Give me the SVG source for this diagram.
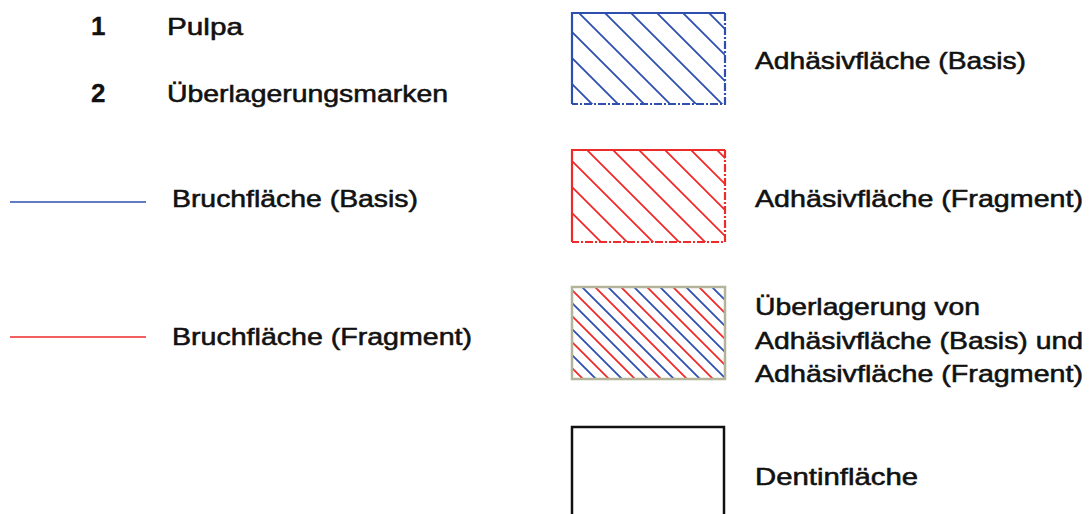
<svg xmlns="http://www.w3.org/2000/svg" width="1092" height="514" viewBox="0 0 1092 514">
<style>
  .t { font-family: "Liberation Sans", Arial, sans-serif; font-size: 24px; font-weight: 400; fill: #111; stroke: #111; stroke-width: 0.55; }
  .n { font-family: "Liberation Sans", Arial, sans-serif; font-size: 26px; font-weight: 700; fill: #111; stroke: #111; stroke-width: 0.3; }
  .hb { stroke: #2f4fb0; stroke-width: 1.8; fill: none; }
  .hr { stroke: #ee2b2b; stroke-width: 1.8; fill: none; }
</style>
<defs>
  <clipPath id="c1"><rect x="572" y="13" width="153" height="91"/></clipPath>
  <clipPath id="c2"><rect x="572" y="150" width="153" height="92"/></clipPath>
  <clipPath id="c3"><rect x="572" y="287" width="153" height="92"/></clipPath>
</defs>
<rect width="1092" height="514" fill="#fff"/>

<g id="pulpa">
  <text class="n" x="91" y="35">1</text>
  <text class="t" x="167" y="35" textLength="76" lengthAdjust="spacingAndGlyphs">Pulpa</text>
</g>
<g id="ueberlagerungsmarken">
  <text class="n" x="91" y="102">2</text>
  <text class="t" x="167" y="102" textLength="281" lengthAdjust="spacingAndGlyphs">Überlagerungsmarken</text>
</g>

<g id="connectors">
  <line x1="10" y1="202" x2="146" y2="202" stroke="#2f4fb0" stroke-width="1.5"/>
  <line x1="10" y1="337" x2="146" y2="337" stroke="#ee2b2b" stroke-width="1.5"/>
</g>

<g id="bruch-basis">
  <text class="t" x="172" y="207" textLength="246" lengthAdjust="spacingAndGlyphs">Bruchfläche (Basis)</text>
</g>
<g id="bruch-fragment">
  <text class="t" x="172" y="345" textLength="300" lengthAdjust="spacingAndGlyphs">Bruchfläche (Fragment)</text>
</g>

<g id="adhaesiv-basis">
  <g clip-path="url(#c1)" class="hb">
    <path d="M488 0L608 120M514 0L634 120M540 0L660 120M566 0L686 120M592 0L712 120M618 0L738 120M644 0L764 120M670 0L790 120M696 0L816 120"/>
  </g>
  <path d="M572 104V13H725" fill="none" stroke="#2f4fb0" stroke-width="2.2"/>
  <path d="M725 13V104H572" fill="none" stroke="#2f4fb0" stroke-width="2.2" stroke-dasharray="8 2 2 2"/>
  <text class="t" x="755" y="69" textLength="271" lengthAdjust="spacingAndGlyphs">Adhäsivfläche (Basis)</text>
</g>

<g id="adhaesiv-fragment">
  <g clip-path="url(#c2)" class="hr">
    <path d="M359 0L609 250M385 0L635 250M411 0L661 250M437 0L687 250M463 0L713 250M489 0L739 250M515 0L765 250M541 0L791 250M567 0L817 250"/>
  </g>
  <path d="M572 242V150H725" fill="none" stroke="#ee2b2b" stroke-width="2.2"/>
  <path d="M725 150V242H572" fill="none" stroke="#ee2b2b" stroke-width="2.2" stroke-dasharray="8 2 2 2"/>
  <text class="t" x="755" y="207" textLength="328" lengthAdjust="spacingAndGlyphs">Adhäsivfläche (Fragment)</text>
</g>

<g id="ueberlagerung">
  <g clip-path="url(#c3)">
    <path class="hb" d="M217 0L617 400M243 0L643 400M269 0L669 400M295 0L695 400M321 0L721 400M347 0L747 400M373 0L773 400M399 0L799 400M425 0L825 400"/>
    <path class="hr" d="M204 0L604 400M230 0L630 400M256 0L656 400M282 0L682 400M308 0L708 400M334 0L734 400M360 0L760 400M386 0L786 400M412 0L812 400M438 0L838 400"/>
  </g>
  <rect x="572" y="287" width="153" height="92" fill="none" stroke="#b4b49a" stroke-width="2.5"/>
  <text class="t" x="755" y="315" textLength="225" lengthAdjust="spacingAndGlyphs">Überlagerung von</text>
  <text class="t" x="755" y="349" textLength="328" lengthAdjust="spacingAndGlyphs">Adhäsivfläche (Basis) und</text>
  <text class="t" x="755" y="382" textLength="328" lengthAdjust="spacingAndGlyphs">Adhäsivfläche (Fragment)</text>
</g>

<g id="dentin">
  <rect x="572" y="427" width="152" height="110" fill="#fff" stroke="#111" stroke-width="2.5"/>
  <text class="t" x="755" y="485" textLength="163" lengthAdjust="spacingAndGlyphs">Dentinfläche</text>
</g>
</svg>
